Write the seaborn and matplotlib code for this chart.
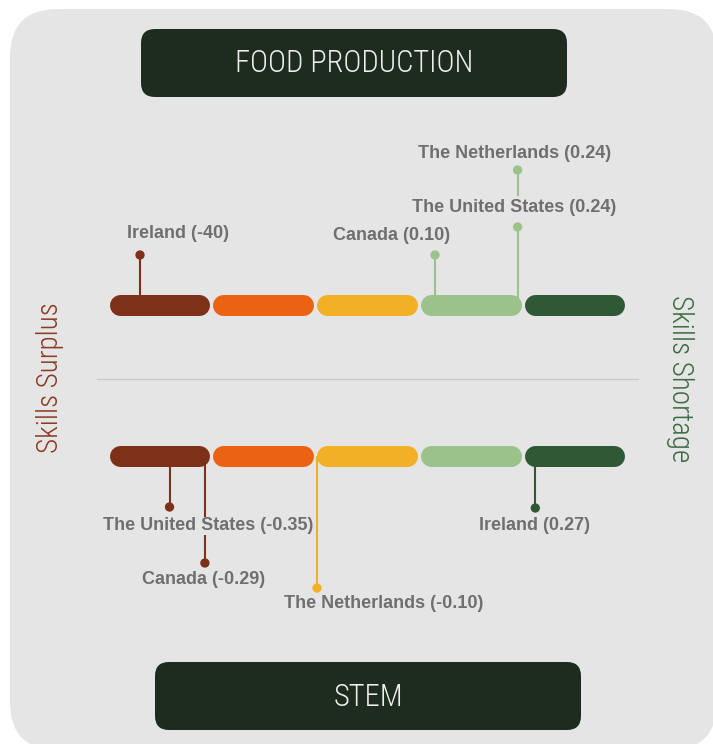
import numpy as np
import pandas as pd
import matplotlib
matplotlib.use("Agg")
import matplotlib.pyplot as plt
from matplotlib.patches import FancyBboxPatch
import seaborn as sns

# ---------------- data ----------------
sectors = ["FOOD PRODUCTION", "STEM"]
food_countries = ["Ireland", "Canada", "The United States", "The Netherlands"]
food_values = [-0.40, 0.10, 0.24, 0.24]
food_labels = ["Ireland (-40)", "Canada (0.10)", "The United States (0.24)", "The Netherlands (0.24)"]
stem_countries = ["The United States", "Canada", "The Netherlands", "Ireland"]
stem_values = [-0.35, -0.29, -0.10, 0.27]
stem_labels = ["The United States (-0.35)", "Canada (-0.29)", "The Netherlands (-0.10)", "Ireland (0.27)"]
side_labels = ["Skills Surplus", "Skills Shortage"]

# ---------------- style / layout ----------------
BAND_COLORS = ["#7d3119", "#ec6213", "#f2b026", "#9ac28a", "#2f5834"]
BG = "#e5e5e5"
TITLE_BG = "#1e2b1f"
LABEL_GRAY = "#6f6f6f"
W, H = 713, 744
PX_PER_UNIT, ORIGIN_PX = 590.0, 376.0
BAR_LO, BAR_HI = -0.4525, 0.422
GAP = 3 / PX_PER_UNIT
BAR_H_PX = 21

sns.set_style("white")
plt.rcParams["font.family"] = ["Liberation Sans", "DejaVu Sans"]
COND = ["Roboto Condensed", "Liberation Sans Narrow", "DejaVu Sans"]

fig = plt.figure(figsize=(W / 100, H / 100), dpi=100, facecolor="white")
bg = fig.add_axes([0, 0, 1, 1])
bg.set_xlim(0, W); bg.set_ylim(H, 0); bg.axis("off")
ax = fig.add_axes([0, 0, 1, 1], zorder=2)
ax.patch.set_alpha(0)

# background panel
bg.add_patch(FancyBboxPatch((10, 9), 707, 741, boxstyle="round,pad=0,rounding_size=48",
                            fc=BG, ec="none"))
# title boxes
for (x0, y0), name in zip([(141, 29), (155, 662)], sectors):
    bg.add_patch(FancyBboxPatch((x0, y0), 426, 68, boxstyle="round,pad=0,rounding_size=14",
                                fc=TITLE_BG, ec="none"))
    bg.text(x0 + 213, y0 + 35, name, ha="center", va="center", color="#eeeeee",
            fontsize=22, family=COND, fontweight="light")
# divider
bg.plot([97, 638], [379, 379], color="#c9c9c9", lw=1)
# side labels
bg.text(50, 378, side_labels[0], rotation=90, ha="center", va="center",
        color="#8b3a20", fontsize=21, family=COND, fontweight="light")
bg.text(680, 379, side_labels[1], rotation=270, ha="center", va="center",
        color="#3d6b40", fontsize=21, family=COND, fontweight="light")

# scale bars
step = (BAR_HI - BAR_LO + GAP) / 5
seg_w = step - GAP
cap = (BAR_H_PX / 2) / PX_PER_UNIT
bar_y = {"FOOD PRODUCTION": 304.5, "STEM": 455.5}
for s in sectors:
    for i, c in enumerate(BAND_COLORS):
        x0 = BAR_LO + i * step
        ax.plot([x0 + cap, x0 + seg_w - cap], [bar_y[s]] * 2, color=c,
                lw=BAR_H_PX * 0.72, solid_capstyle="round", zorder=3)

# points
df = pd.DataFrame({
    "sector": ["FOOD PRODUCTION"] * 4 + ["STEM"] * 4,
    "country": food_countries + stem_countries,
    "value": food_values + stem_values,
    "label": food_labels + stem_labels,
})
df["band"] = np.clip(np.floor((df["value"] - BAR_LO) / step), 0, 4).astype(int)

# layout per point: marker y, stem end y, label y, label x offset (px)
marker_y = [255, 255, 227, 170, 507, 563, 588, 508]
stem_end = [304.5, 304.5, 304.5, 196, 455.5, 455.5, 455.5, 455.5]
label_y = [233, 235, 207, 153, 526, 579, 604, 526]
label_dx = [38, -43, -3, -3, 39, -1, 67, -1]
df["my"] = marker_y

ax.vlines(df["value"], df["my"], stem_end,
          colors=[BAND_COLORS[b] for b in df["band"]], lw=1.5, zorder=2)
sns.scatterplot(data=df, x="value", y="my", hue="band",
                palette={i: c for i, c in enumerate(BAND_COLORS)},
                s=45, edgecolor="none", legend=False, ax=ax, zorder=4)
ax.set_xlabel(""); ax.set_ylabel("")
ax.set_xlim(-ORIGIN_PX / PX_PER_UNIT, (W - ORIGIN_PX) / PX_PER_UNIT)
ax.set_ylim(H, 0)
ax.axis("off")

for (_, r), ly, dx in zip(df.iterrows(), label_y, label_dx):
    ax.annotate(r["label"], xy=(r["value"], ly), xytext=(dx, 0),
                textcoords="offset pixels", ha="center", va="center",
                color=LABEL_GRAY, fontsize=13, fontweight="bold", zorder=5,
                bbox=dict(boxstyle="square,pad=0.05", fc=BG, ec="none"))

fig.savefig("out.png", dpi=100, facecolor="white")
